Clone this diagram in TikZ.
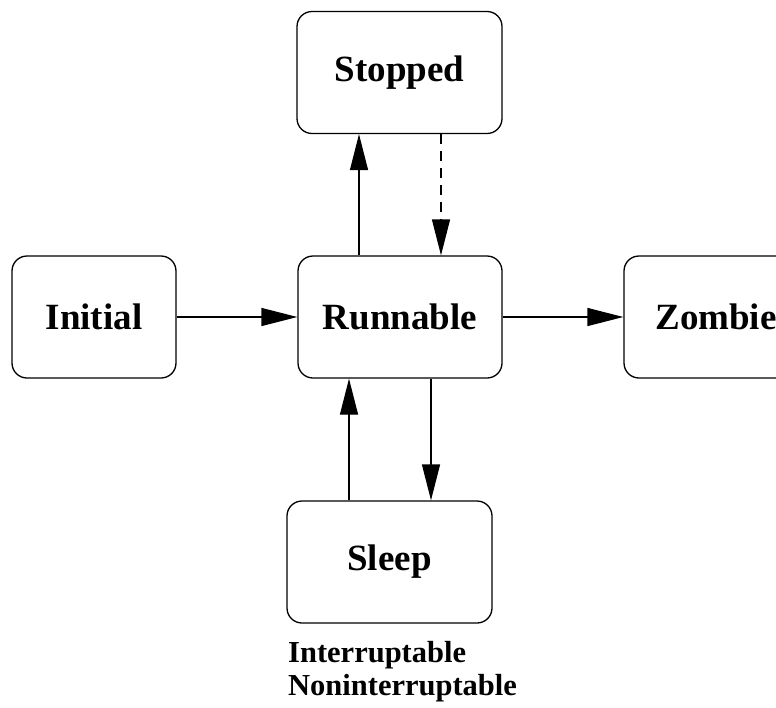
\documentclass[tikz,border=0pt]{standalone}
\usepackage{fontspec}
\setmainfont{Liberation Serif}
\usetikzlibrary{arrows.meta}
\begin{document}
\begin{tikzpicture}[x=1pt,y=-1pt,
  state/.style={draw,line width=1.3pt,rounded corners=15pt,
    minimum height=122pt,inner sep=0pt,
    font=\fontsize{37}{40}\selectfont\bfseries},
  arr/.style={line width=1.3pt,-{Triangle[length=36pt,width=18pt]}},
  note/.style={font=\fontsize{30.5}{33}\selectfont\bfseries,align=left,inner sep=0pt}]
  \useasboundingbox (0,0) rectangle (776,707);
  \begin{scope}
    \clip (0,0) rectangle (776,707);
    \node[state,minimum width=164pt] (init) at (94,317) {Initial};
    \node[state,minimum width=204pt] (run) at (400,317) {Runnable};
    \node[state,minimum width=205pt] (stop) at (399.5,72.5) {Stopped};
    \node[state,minimum width=184pt] (zomb) at (716,317) {Zombie};
    \node[state,minimum width=205pt] (sleep) at (389.5,562) {Sleep};
  \end{scope}
  \node[note,anchor=north west] (kinds) at (288,641) {Interruptable\\Noninterruptable};

  \draw[arr] (init.east) -- (run.west);
  \draw[arr] (run.east) -- (zomb.west);
  \draw[arr] ([xshift=-41pt]run.north) -- ([xshift=-40.5pt]stop.south);
  \draw[arr,dash pattern=on 10pt off 7pt] ([xshift=41.5pt]stop.south) -- ([xshift=41pt]run.north);
  \draw[arr] ([xshift=-40.5pt]sleep.north) -- ([xshift=-51pt]run.south);
  \draw[arr] ([xshift=31pt]run.south) -- ([xshift=41.5pt]sleep.north);
\end{tikzpicture}
\end{document}
